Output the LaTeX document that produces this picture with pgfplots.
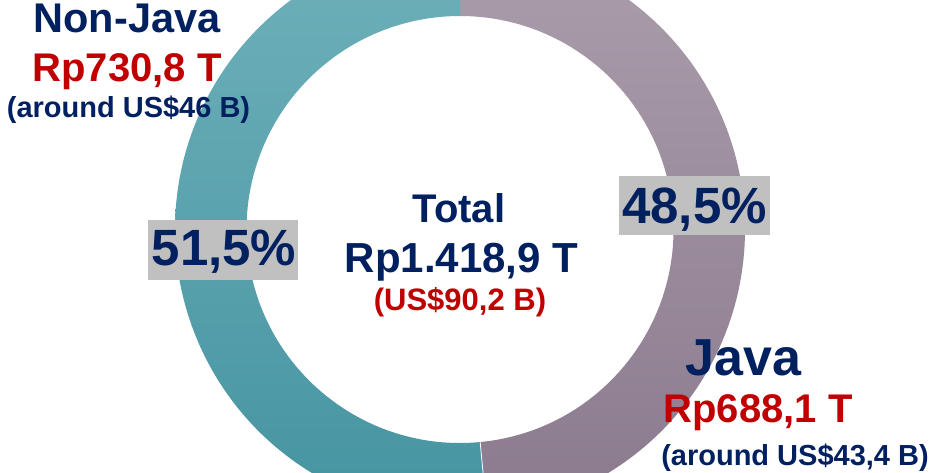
\documentclass[border=0pt]{standalone}
\usepackage{fontspec}
\setmainfont{Liberation Sans}
\usepackage{pgfplots}
\usepackage{pgfplotstable}
\pgfplotsset{compat=1.18}
\definecolor{navy}{HTML}{002060}
\definecolor{dred}{HTML}{C00000}
\definecolor{tealT}{HTML}{6EB0BA}
\definecolor{tealB}{HTML}{4594A1}
\definecolor{mauT}{HTML}{AA9DAB}
\definecolor{mauB}{HTML}{8B7A8E}
\definecolor{boxg}{HTML}{C0C0C0}
\pgfplotstableread{
region value
Java 688.1
NonJava 730.8
}\shares
\newcommand{\fs}[1]{\fontsize{#1}{#1}\selectfont\bfseries}
\begin{document}
\begin{tikzpicture}
\pgfplotstablegetelem{0}{value}\of\shares \let\vJava\pgfplotsretval
\pgfplotstablegetelem{1}{value}\of\shares \let\vNon\pgfplotsretval
\pgfmathsetmacro{\fracJ}{\vJava/(\vJava+\vNon)}
\pgfmathsetmacro{\aJ}{90-360*\fracJ}
\pgfmathsetmacro{\cx}{460}
\pgfmathsetmacro{\cy}{242.5}
\pgfmathsetmacro{\Ro}{285}
\pgfmathsetmacro{\Ri}{213.5}
\begin{axis}[
  scale only axis, width=931pt, height=472pt,
  xmin=0, xmax=931, ymin=0, ymax=472,
  hide axis, clip=true,
]
% Java sector (clockwise from top)
\path[top color=mauT, bottom color=mauB]
  (axis cs:{\cx+\Ro*cos(90)},{\cy+\Ro*sin(90)}) arc[start angle=90, end angle=\aJ, radius=\Ro pt]
  -- (axis cs:{\cx+\Ri*cos(\aJ)},{\cy+\Ri*sin(\aJ)}) arc[start angle=\aJ, end angle=90, radius=\Ri pt] -- cycle;
% Non-Java sector
\path[top color=tealT, bottom color=tealB]
  (axis cs:{\cx+\Ro*cos(90)},{\cy+\Ro*sin(90)}) arc[start angle=90, end angle=\aJ+360, radius=\Ro pt]
  -- (axis cs:{\cx+\Ri*cos(\aJ)},{\cy+\Ri*sin(\aJ)}) arc[start angle=\aJ+360, end angle=90, radius=\Ri pt] -- cycle;
\draw[white, line width=0.8pt] (axis cs:{\cx+\Ri*cos(\aJ)},{\cy+\Ri*sin(\aJ)}) -- (axis cs:{\cx+\Ro*cos(\aJ)},{\cy+\Ro*sin(\aJ)});
% percentage boxes
\fill[boxg] (axis cs:148,192) rectangle (axis cs:298,252);
\fill[boxg] (axis cs:619,237) rectangle (axis cs:770,296);
\node[anchor=base, inner sep=0pt, text=navy] at (axis cs:224,207) {\fs{51}51,5\%};
\node[anchor=base, inner sep=0pt, text=navy] at (axis cs:694.5,249) {\fs{51}48,5\%};
% Non-Java label
\node[anchor=base, inner sep=0pt, text=navy] at (axis cs:127,439) {\fs{41.5}Non-Java};
\node[anchor=base, inner sep=0pt, text=dred] at (axis cs:127,390) {\fs{40}Rp730,8 T};
\node[anchor=base, inner sep=0pt, text=navy] at (axis cs:128.5,354) {\fs{29}(around US\$46 B)};
% Total
\node[anchor=base, inner sep=0pt, text=navy] at (axis cs:459,250) {\fs{40}Total};
\node[anchor=base, inner sep=0pt, text=navy] at (axis cs:461.5,200) {\fs{42}Rp1.418,9 T};
\node[anchor=base, inner sep=0pt, text=dred] at (axis cs:460,162) {\fs{31}(US\$90,2 B)};
% Java label
\node[anchor=base, inner sep=0pt, text=navy] at (axis cs:743.5,97) {\fs{52}Java};
\node[anchor=base, inner sep=0pt, text=dred] at (axis cs:758,50) {\fs{40}Rp688,1 T};
\node[anchor=base, inner sep=0pt, text=navy] at (axis cs:795,7) {\fs{29}(around US\$43,4 B)};
\end{axis}
\pgfresetboundingbox
\path[use as bounding box] (current axis.south west) rectangle (current axis.north east);
\end{tikzpicture}
\end{document}
